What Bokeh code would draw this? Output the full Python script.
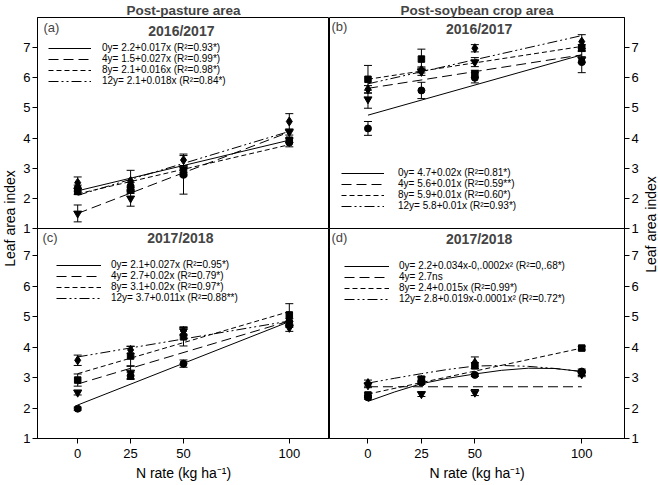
import math
from bokeh.plotting import figure
from bokeh.models import (Range1d, FixedTicker, Legend, LegendItem, Whisker, TeeHead,
                          ColumnDataSource, LinearAxis, Label)
from bokeh.layouts import row, column
from bokeh.embed import file_html
from bokeh.resources import INLINE
from bokeh.core.properties import value

FONT = "Liberation Sans"

# ---------------- data ----------------
n_rate = [0, 25, 50, 100]
x_ticks = [0, 25, 50, 100]
y_ticks = [1, 2, 3, 4, 5, 6, 7]
col_titles = ["Post-pasture area", "Post-soybean crop area"]
season_titles = ["2016/2017", "2017/2018"]
panel_tags = ["(a)", "(b)", "(c)", "(d)"]
y_label = "Leaf area index"
x_label = "N rate (kg ha\u207b\u00b9)"

# (a) post-pasture 2016/2017  -- series 0y, 4y, 8y, 12y
a_vals = [[2.34, 2.41, 2.78, 3.85], [1.50, 2.00, 2.97, 4.20],
          [2.23, 2.27, 2.86, 3.93], [2.52, 2.58, 3.27, 4.55]]
a_errs = [[0.10, 0.12, 0.64, 0.14], [0.28, 0.26, 0.12, 0.10],
          [0.10, 0.10, 0.12, 0.08], [0.19, 0.35, 0.20, 0.26]]
a_fit_x = [[0, 100], [0, 100], [0, 100], [0, 100]]
a_fit_y = [[2.25, 3.93], [1.50, 4.20], [2.15, 3.78], [2.10, 4.22]]
a_labels = ["0y= 2.2+0.017x (R\u00b2=0.93*)", "4y= 1.5+0.027x (R\u00b2=0.99*)",
            "8y= 2.1+0.016x (R\u00b2=0.98*)", "12y= 2.1+0.018x (R\u00b2=0.84*)"]

# (b) post-soybean 2016/2017
b_vals = [[4.32, 5.58, 6.00, 6.52], [5.29, 6.20, 6.52, 6.60],
          [5.95, 6.62, 6.13, 7.00], [5.62, 6.26, 6.98, 7.20]]
b_errs = [[0.23, 0.27, 0.17, 0.35], [0.30, 0.12, 0.15, 0.10],
          [0.46, 0.33, 0.12, 0.10], [0.12, 0.10, 0.12, 0.23]]
b_fit_x = [[0, 100], [0, 100], [0, 100], [0, 100]]
b_fit_y = [[4.76, 6.76], [5.65, 6.76], [5.95, 7.04], [5.80, 7.40]]
b_labels = ["0y= 4.7+0.02x (R\u00b2=0.81*)", "4y= 5.6+0.01x (R\u00b2=0.59**)",
            "8y= 5.9+0.01x (R\u00b2=0.60*)", "12y= 5.8+0.01x (R\u00b2=0.93*)"]

# (c) post-pasture 2017/2018
c_vals = [[1.98, 3.06, 3.46, 4.84], [2.51, 3.17, 4.53, 4.64],
          [2.92, 3.71, 4.34, 5.06], [3.57, 3.91, 4.53, 4.75]]
c_errs = [[0.05, 0.12, 0.12, 0.10], [0.08, 0.20, 0.12, 0.12],
          [0.20, 0.32, 0.30, 0.37], [0.17, 0.12, 0.14, 0.10]]
c_fit_x = [[0, 100], [0, 100], [0, 100], [0, 100]]
c_fit_y = [[2.10, 4.84], [2.79, 4.86], [3.13, 5.17], [3.68, 4.86]]
c_labels = ["0y= 2.1+0.027x (R\u00b2=0.95*)", "4y= 2.7+0.02x (R\u00b2=0.79*)",
            "8y= 3.1+0.02x (R\u00b2=0.97*)", "12y= 3.7+0.011x (R\u00b2=0.88**)"]

# (d) post-soybean 2017/2018
d_vals = [[2.35, 2.84, 3.09, 3.20], [2.75, 2.46, 2.51, 3.11],
          [2.43, 2.95, 3.39, 3.97], [2.82, 2.92, 3.49, 3.15]]
d_errs = [[0.06, 0.06, 0.05, 0.08], [0.08, 0.08, 0.10, 0.08],
          [0.07, 0.08, 0.10, 0.06], [0.10, 0.10, 0.19, 0.08]]
d_fit_x = [[0, 12.5, 25, 37.5, 50, 62.5, 75, 87.5, 100], [0, 100], [0, 100],
           [0, 12.5, 25, 37.5, 50, 62.5, 75, 87.5, 100]]
d_fit_y = [[2.22, 2.53, 2.80, 2.98, 3.12, 3.24, 3.31, 3.30, 3.20], [2.70, 2.70],
           [2.46, 3.97], [2.82, 2.98, 3.13, 3.27, 3.38, 3.40, 3.37, 3.30, 3.20]]
d_labels = ["0y= 2.2+0.034x-0,.0002x\u00b2 (R\u00b2=0,.68*)", "4y= 2.7ns",
            "8y= 2.4+0.015x (R\u00b2=0.99*)", "12y= 2.8+0.019x-0.0001x\u00b2 (R\u00b2=0.72*)"]

# ---------------- styling ----------------
markers = ["circle", "inverted_triangle", "square", "diamond"]
marker_sizes = [7, 8, 6.5, 9]
dashes = ["solid", "10 5", "5 3", "10 3 2 3 2 3"]

TOP_FH, BOT_FH = 211, 210
LEFT_FW, RIGHT_FW = 292, 295
LEFT_XR, RIGHT_XR = (-19, 119), (-18, 120)
TOP_YR, BOT_YR = (1, 8.0), (1, 7.9)
OVERLAP = 8


def style_axis(ax, ticks):
    ax.ticker = FixedTicker(ticks=ticks)
    ax.major_label_text_font = FONT
    ax.major_label_text_font_size = "13px"
    ax.major_label_text_color = "black"
    ax.major_tick_out = 5
    ax.major_tick_in = 0
    ax.minor_tick_out = 0
    ax.minor_tick_in = 0
    ax.axis_line_color = "black"
    ax.major_tick_line_color = "black"
    ax.major_label_standoff = 2


def panel(vals, errs, fit_x, fit_y, labels, side, top, tag, season, title,
          legend_loc, glyph_w, standoff, tag_xoff, tag_dy, season_x, season_dy):
    fw = LEFT_FW if side == "left" else RIGHT_FW
    fh = TOP_FH if top else BOT_FH
    xr = LEFT_XR if side == "left" else RIGHT_XR
    yr = TOP_YR if top else BOT_YR
    p = figure(frame_width=fw, frame_height=fh,
               x_range=Range1d(*xr), y_range=Range1d(*yr),
               toolbar_location=None, output_backend="svg",
               x_axis_location=None, y_axis_location=None,
               min_border_left=16 if side == "left" else 0,
               min_border_right=0 if side == "left" else 17,
               min_border_top=0,
               min_border_bottom=OVERLAP if top else 46,
               background_fill_color="white", border_fill_color="white",
               border_fill_alpha=1 if top else 0)
    p.grid.visible = False
    p.outline_line_color = "black"
    p.outline_line_width = 1
    p.outline_line_alpha = 1

    yax = LinearAxis()
    style_axis(yax, y_ticks)
    p.add_layout(yax, side)
    if not top:
        xax = LinearAxis(axis_label=x_label)
        style_axis(xax, x_ticks)
        xax.major_label_standoff = 5
        xax.axis_label_text_font = FONT
        xax.axis_label_text_font_size = "14px"
        xax.axis_label_text_font_style = "normal"
        xax.axis_label_standoff = 4
        xax.axis_label_text_color = "black"
        p.add_layout(xax, "below")

    if title:
        p.title.text = title
        p.title.align = "center"
        p.title.text_font = FONT
        p.title.text_font_size = "13.5px"
        p.title.text_font_style = "bold"
        p.title.standoff = 0
        p.title.offset = 0

    items = []
    for i in range(4):
        r = p.line(fit_x[i], fit_y[i], line_color="black", line_width=1,
                   line_dash=dashes[i])
        items.append(LegendItem(label=labels[i], renderers=[r]))
    for i in range(4):
        up = [v + e for v, e in zip(vals[i], errs[i])]
        lo = [v - e for v, e in zip(vals[i], errs[i])]
        src = ColumnDataSource(dict(x=n_rate, y=vals[i], upper=up, lower=lo))
        w = Whisker(source=src, base="x", upper="upper", lower="lower",
                    line_color="black", line_width=1,
                    upper_head=TeeHead(size=8, line_color="black", line_width=1),
                    lower_head=TeeHead(size=8, line_color="black", line_width=1))
        p.add_layout(w)
        p.scatter("x", "y", source=src, marker=markers[i], size=marker_sizes[i],
                  fill_color="black", line_color="black")

    leg = Legend(items=items, location=legend_loc, padding=0, margin=0,
                 spacing=0, border_line_color=None, background_fill_alpha=0,
                 glyph_width=glyph_w, glyph_height=10, label_height=10,
                 label_standoff=standoff, label_text_font=FONT,
                 label_text_font_size="10px", label_text_color="black")
    p.add_layout(leg)

    ux = fw / (xr[1] - xr[0])
    uy = fh / (yr[1] - yr[0])
    p.add_layout(Label(x=xr[0] + tag_xoff / ux, y=yr[1] - tag_dy / uy, text=tag,
                       text_font=FONT, text_font_size="13px",
                       text_align="left", text_baseline="middle"))
    p.add_layout(Label(x=season_x, y=yr[1] - season_dy / uy, text=season,
                       text_font=FONT, text_font_size="14px", text_font_style="bold",
                       text_align="center", text_baseline="middle"))
    return p


pa = panel(a_vals, a_errs, a_fit_x, a_fit_y, a_labels, "left", True, panel_tags[0],
           season_titles[0], col_titles[0], (11, 142), 43, 11, 6, 10, 49, 13)
pb = panel(b_vals, b_errs, b_fit_x, b_fit_y, b_labels, "right", True, panel_tags[1],
           season_titles[0], col_titles[1], (12, 17), 43, 14, 2, 9, 52, 11)
pc = panel(c_vals, c_errs, c_fit_x, c_fit_y, c_labels, "left", False, panel_tags[2],
           season_titles[1], None, (19, 135), 45, 10, 5, 8.5, 48.5, 9.5)
pd_ = panel(d_vals, d_errs, d_fit_x, d_fit_y, d_labels, "right", False, panel_tags[3],
            season_titles[1], None, (15, 134), 45, 10, 2, 9, 52, 10)

TOTAL_H = 484


def side_label(width, xfrac, yfrac):
    f = figure(width=width, height=TOTAL_H, x_range=Range1d(0, 1), y_range=Range1d(0, 1),
               toolbar_location=None, output_backend="svg", min_border=0,
               x_axis_location=None, y_axis_location=None)
    f.grid.visible = False
    f.outline_line_color = None
    f.text(x=[xfrac], y=[yfrac], text=[y_label], angle=math.pi / 2,
           text_align="center", text_baseline="middle",
           text_font=value(FONT), text_font_size="14px", text_color="black")
    return f


lab_l = side_label(20, 0.47, 1 - 218 / TOTAL_H)
lab_r = side_label(18, 0.55, 1 - 224 / TOTAL_H)

top_row = row(pa, pb)
bottom_row = row(pc, pd_, margin=(-OVERLAP, 0, 0, 0))
grid = column(top_row, bottom_row)
layout = row(lab_l, grid, lab_r)

open("out.html", "w").write(file_html(layout, INLINE))
